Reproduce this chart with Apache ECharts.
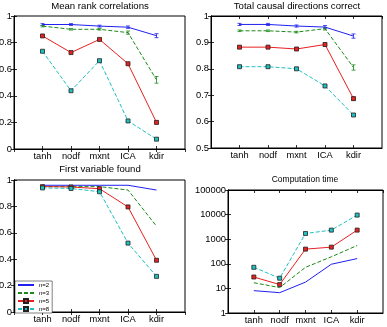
<!DOCTYPE html>
<html>
<head>
<meta charset="utf-8">
<script src="https://cdn.jsdelivr.net/npm/echarts@6/dist/echarts.min.js"></script>
<style>
  html, body { margin: 0; padding: 0; background: #fff; }
  #chart { width: 387px; height: 327px; }
</style>
</head>
<body>
<div id="chart"></div>
<script>
const methods = ['tanh', 'nodf', 'mxnt', 'ICA', 'kdir']
const seriesNames = ['n=2', 'n=3', 'n=5', 'n=8']

// rows: n=2, n=3, n=5, n=8
const rankCorr = [
  [0.936, 0.936, 0.924, 0.916, 0.852],
  [0.924, 0.900, 0.900, 0.875, 0.520],
  [0.850, 0.725, 0.824, 0.641, 0.200],
  [0.735, 0.438, 0.664, 0.211, 0.074],
]
const rankErr = [
  [0.007, 0.007, 0.007, 0.009, 0.015],
  [0.006, 0.006, 0.006, 0.012, 0.025],
  [0.006, 0.006, 0.006, 0.008, 0.010],
  [0.005, 0.006, 0.006, 0.006, 0.006],
]
const directions = [
  [0.968, 0.968, 0.962, 0.958, 0.924],
  [0.944, 0.944, 0.939, 0.952, 0.805],
  [0.882, 0.882, 0.875, 0.892, 0.687],
  [0.808, 0.808, 0.800, 0.735, 0.625],
]
const directionsErr = [
  [0.004, 0.004, 0.004, 0.006, 0.008],
  [0.003, 0.003, 0.003, 0.005, 0.010],
  [0.004, 0.004, 0.004, 0.005, 0.006],
  [0.003, 0.003, 0.003, 0.004, 0.005],
]
const firstVar = [
  [0.960, 0.960, 0.960, 0.960, 0.924],
  [0.950, 0.950, 0.950, 0.924, 0.650],
  [0.950, 0.947, 0.934, 0.796, 0.392],
  [0.940, 0.936, 0.911, 0.522, 0.270],
]
const compTime = [
  [8.1, 6.7, 18, 96, 163],
  [17, 10.8, 72, 192, 555],
  [29, 14.3, 395, 475, 2340],
  [72, 26, 1710, 2340, 9550],
]

const colors = ['#2020f0', '#1a8a1a', '#e82020', '#20c0c0']
const dashed = [false, true, false, true]
const marked = [false, false, true, true]
const font = 'Liberation Sans'

const panels = [
  { title: 'Mean rank correlations', vals: rankCorr, err: rankErr, grid: [14, 16, 171, 133], tx: 100, ty: 1, ts: 9.6 },
  { title: 'Total causal directions correct', vals: directions, err: directionsErr, grid: [211, 16, 171, 132], tx: 297, ty: 1, ts: 9.6 },
  { title: 'First variable found', vals: firstVar, err: null, grid: [14, 180, 171, 132], tx: 100, ty: 164, ts: 9.6 },
  { title: 'Computation time', vals: compTime, err: null, grid: [228, 190, 155, 123], tx: 305, ty: 175, ts: 8.5 },
]

const yRanges = [
  { type: 'value', min: 0, max: 1, interval: 0.2 },
  { type: 'value', min: 0.5, max: 1, interval: 0.1 },
  { type: 'value', min: 0, max: 1, interval: 0.2 },
  { type: 'log', logBase: 10, min: 1, max: 100000 },
]

const tickStyle = { inside: true, length: 3, lineStyle: { color: '#000', width: 0.8 } }
const lineAxis = { show: true, lineStyle: { color: '#000', width: 1 } }

const grids = []
const xAxes = []
const yAxes = []
const titles = []
const series = []

panels.forEach((p, pi) => {
  const [l, t, w, h] = p.grid
  grids.push({
    left: l, top: t, width: w, height: h, containLabel: false, outerBoundsMode: 'none',
    show: true, borderColor: '#000', borderWidth: 1, backgroundColor: '#fff',
  })
  titles.push({
    text: p.title, left: p.tx, top: p.ty, textAlign: 'center', padding: 0,
    textStyle: { fontFamily: font, fontSize: p.ts, fontWeight: 'normal', color: '#000' },
  })
  const xBase = {
    gridIndex: pi, type: 'value', min: 0, max: 6, interval: 1,
    axisLine: lineAxis, axisTick: tickStyle, splitLine: { show: false },
  }
  xAxes.push({
    ...xBase, position: 'bottom',
    axisLabel: {
      margin: 3, fontFamily: font, fontSize: 9.3, color: '#000',
      showMinLabel: false, showMaxLabel: false,
      formatter: (v) => methods[v - 1] || '',
    },
  })
  xAxes.push({ ...xBase, position: 'top', axisLabel: { show: false } })
  const yBase = {
    gridIndex: pi, ...yRanges[pi],
    axisLine: lineAxis, axisTick: tickStyle, splitLine: { show: false },
  }
  yAxes.push({
    ...yBase, position: 'left',
    axisLabel: {
      margin: 2, fontFamily: font, fontSize: 9.3, color: '#000',
      showMinLabel: true, showMaxLabel: true,
      formatter: (v) => String(+(+v).toFixed(1)),
    },
  })
  yAxes.push({ ...yBase, position: 'right', axisLabel: { show: false } })

  seriesNames.forEach((name, si) => {
    const data = p.vals[si].map((v, j) => [j + 1, v])
    if (p.err) {
      // error bars, drawn through the axis coords
      series.push({
        name: name + ' err', type: 'custom', xAxisIndex: pi * 2, yAxisIndex: pi * 2,
        silent: true, z: 2,
        data: p.vals[si].map((v, j) => [j + 1, v - p.err[si][j], v + p.err[si][j]]),
        renderItem: (params, api) => {
          const lo = api.coord([api.value(0), api.value(1)])
          const hi = api.coord([api.value(0), api.value(2)])
          const st = { stroke: colors[si], lineWidth: 0.8 }
          return {
            type: 'group',
            children: [
              { type: 'line', shape: { x1: lo[0], y1: lo[1], x2: hi[0], y2: hi[1] }, style: st },
              { type: 'line', shape: { x1: lo[0] - 2, y1: lo[1], x2: lo[0] + 2, y2: lo[1] }, style: st },
              { type: 'line', shape: { x1: hi[0] - 2, y1: hi[1], x2: hi[0] + 2, y2: hi[1] }, style: st },
            ],
          }
        },
      })
    }
    series.push({
      name, type: 'line', xAxisIndex: pi * 2, yAxisIndex: pi * 2, data, z: 3,
      symbol: marked[si] ? 'rect' : 'none', symbolSize: 4, showSymbol: marked[si],
      lineStyle: { color: colors[si], width: 1, type: dashed[si] ? [4, 2] : 'solid' },
      itemStyle: { color: colors[si], borderColor: '#222', borderWidth: 0.8 },
    })
  })
})

const chart = echarts.init(document.getElementById('chart'))
chart.setOption({
  animation: false,
  backgroundColor: '#fff',
  title: titles,
  grid: grids,
  xAxis: xAxes,
  yAxis: yAxes,
  legend: {
    data: seriesNames.map((name, si) => ({
      name,
      itemStyle: marked[si] ? {} : { opacity: 0 },
    })),
    orient: 'vertical', left: 15, top: 281,
    itemWidth: 16, itemHeight: 5, itemGap: 2, padding: [1, 3, 1, 2],
    borderColor: '#000', borderWidth: 0.5, backgroundColor: '#fff',
    textStyle: { fontFamily: font, fontSize: 6, color: '#000' },
  },
  series,
})
</script>
</body>
</html>
